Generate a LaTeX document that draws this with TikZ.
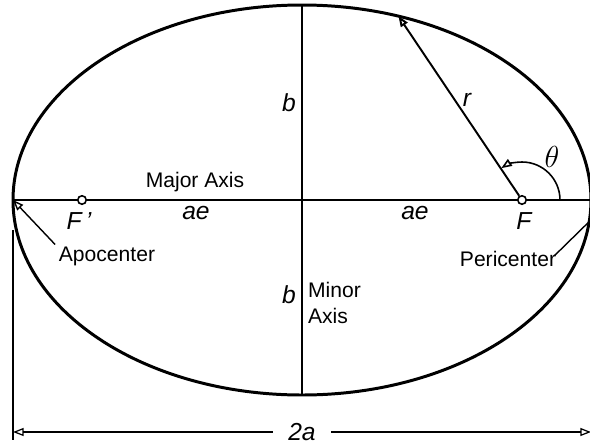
\documentclass[tikz,border=0pt]{standalone}
\usepackage{fontspec}
\setmainfont{Liberation Sans}
\usetikzlibrary{arrows.meta,positioning,calc}

\begin{document}
\begin{tikzpicture}[>={Triangle[open,length=6pt,width=4.5pt]},
   lbl/.style={font=\fontsize{12}{14.5}\selectfont, inner sep=1pt},
   sym/.style={font=\fontsize{14}{16}\selectfont\itshape, inner sep=1pt},
   focus/.style={circle, draw, fill=white, inner sep=0pt, minimum size=0.17cm, line width=0.9pt}]
  \useasboundingbox (-6.04,-4.88) rectangle (5.76,4.0);
  \coordinate (O) at (0,0);
  \coordinate (apo) at (-5.78,0);
  \coordinate (peri) at (5.78,0);
  \coordinate (top) at (0,3.9);
  \coordinate (bot) at (0,-3.9);
  \coordinate (P) at (70.5:5.78 and 3.9);
  % orbit and axes
  \draw[line width=1.7pt] (O) ellipse[x radius=5.78, y radius=3.9];
  \draw[line width=1.1pt] (apo) -- (peri);
  \draw[line width=1.3pt] (top) -- (bot);
  \node[focus] (Fp) at (-4.4,0) {};
  \node[focus] (F) at (4.4,0) {};
  % radius vector and true anomaly
  \draw[->,line width=1.1pt] (F) -- (P);
  \draw[->,line width=0.9pt] ($(F)+(0.76,0)$) arc[start angle=0, end angle=123, radius=0.76];
  \node[sym, font=\fontsize{17}{18}\selectfont] (theta) at (5.0,0.86) {$\theta$};
  \node[sym] (r) at (3.3,2.0) {r};
  % labels
  \node[sym] (b1) at (-0.26,1.94) {b};
  \node[sym] (b2) at (-0.26,-1.9) {b};
  \node[lbl, align=left, anchor=west] (minor) at (0.08,-2.06) {Minor\\Axis};
  \node[lbl] (major) at (-2.14,0.36) {Major Axis};
  \node[sym] (ae1) at (-2.12,-0.26) {ae};
  \node[sym] (ae2) at (2.26,-0.26) {ae};
  \node[sym] (Fpl) at (-4.46,-0.42) {F\,'};
  \node[sym] (Fl) at (4.44,-0.42) {F};
  \node[lbl] (apoc) at (-3.9,-1.12) {Apocenter};
  \node[lbl] (peric) at (4.12,-1.18) {Pericenter};
  \coordinate (pt) at (5.9,-0.28);
  \draw[->,line width=0.8pt] ([xshift=-1pt]apoc.north west) -- (apo);
  \draw[line width=0.8pt] ([xshift=-2pt,yshift=2pt]peric.east) -- (pt);
  % dimension 2a
  \coordinate (ext1) at (-5.78,-0.6);
  \coordinate (ext2) at (-5.78,-4.8);
  \coordinate (dl) at (-5.78,-4.64);
  \coordinate (dr) at (5.78,-4.64);
  \draw[line width=0.9pt] (ext1) -- (ext2);
  \draw[<->,line width=0.7pt] (dl) -- node[sym, fill=white, inner xsep=0.3cm] (twoa) {2a} (dr);
\end{tikzpicture}
\end{document}
